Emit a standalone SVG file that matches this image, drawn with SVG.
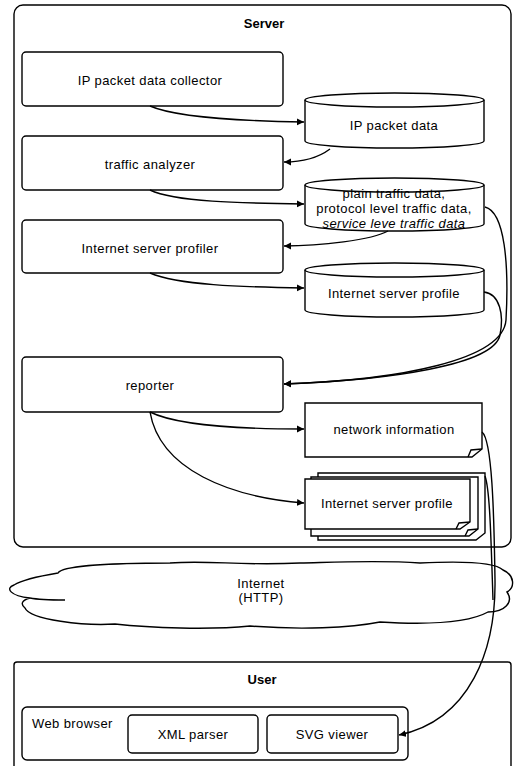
<svg xmlns="http://www.w3.org/2000/svg" width="514" height="766" viewBox="0 0 514 766">
<style>
  .box{fill:#fff;stroke:#000;stroke-width:1.4}
  .t{font-family:"Liberation Sans",Arial,sans-serif;font-size:13px;letter-spacing:0.4px;fill:#000;text-anchor:middle;dominant-baseline:central}
  .tb{font-weight:bold;letter-spacing:0}
  .c{fill:none;stroke:#000;stroke-width:1.4}
</style>
<defs>
  <marker id="ah" markerWidth="8" markerHeight="8" refX="7" refY="4" orient="auto" markerUnits="userSpaceOnUse">
    <path d="M0,0.5 L7,4 L0,7.5 Z" fill="#000"/>
  </marker>
</defs>
<rect width="514" height="766" fill="#fff"/>

<g id="server">
  <rect class="box" x="14" y="5" width="497" height="542" rx="9"/>
  <text class="t tb" x="264" y="23">Server</text>
</g>

<g id="collector">
  <rect class="box" x="22" y="52" width="261" height="54" rx="4"/>
  <text class="t" x="150" y="80">IP packet data collector</text>
</g>
<g id="ipdata">
  <path class="box" d="M305,100 A89.5,7 0 0 1 484,100 V141 A89.5,7 0 0 1 305,141 Z"/>
  <path class="c" d="M305,100 A89.5,7 0 0 0 484,100"/>
  <text class="t" x="394" y="125">IP packet data</text>
</g>
<g id="analyzer">
  <rect class="box" x="22" y="136" width="261" height="54" rx="4"/>
  <text class="t" x="150" y="164">traffic analyzer</text>
</g>
<g id="trafficdata">
  <path class="box" d="M305,185 A89.5,7 0 0 1 484,185 V224 A89.5,7 0 0 1 305,224 Z"/>
  <path class="c" d="M305,185 A89.5,7 0 0 0 484,185"/>
  <text class="t" x="394" y="193">plain traffic data,</text>
  <text class="t" x="394" y="208">protocol level traffic data,</text>
  <text class="t" x="394" y="223" font-style="italic">service leve traffic data</text>
</g>
<g id="profiler">
  <rect class="box" x="22" y="220" width="261" height="53" rx="4"/>
  <text class="t" x="150" y="248">Internet server profiler</text>
</g>
<g id="profiledb">
  <path class="box" d="M305,270 A89.5,7 0 0 1 484,270 V310 A89.5,7 0 0 1 305,310 Z"/>
  <path class="c" d="M305,270 A89.5,7 0 0 0 484,270"/>
  <text class="t" x="394" y="293">Internet server profile</text>
</g>
<g id="reporter">
  <rect class="box" x="22" y="357" width="261" height="55" rx="4"/>
  <text class="t" x="150" y="385">reporter</text>
</g>
<g id="netinfo">
  <path class="box" d="M305,403 H482 V449 L472,457 H305 Z"/>
  <path class="c" d="M468,457 L471,450 L482,449"/>
  <text class="t" x="394" y="429">network information</text>
</g>
<g id="profiledoc">
  <path class="box" d="M318,473 H485 V533 L476,540 H318 Z"/>
  <path class="box" d="M311,477 H478 V529 L469,536 H311 Z"/>
  <path class="c" d="M465,536 L468,530 L478,529"/>
  <path class="box" d="M305,479 H470 V522 L460,529 H305 Z"/>
  <path class="c" d="M456,529 L459,523 L470,522"/>
  <text class="t" x="387" y="503">Internet server profile</text>
</g>

<g id="internet">
  <path class="box" d="M58,573 C62,566 110,563 170,563 C210,560 240,566 300,563 C340,562 380,560 420,563 C460,561 495,562 503,570 C515,575 515,588 507,592 C514,602 505,612 488,612 C470,622 430,625 380,622 C350,628 300,630 250,626 C210,630 150,628 115,624 C85,626 30,620 25,608 C20,604 22,600 30,598 C10,596 5,588 14,585 C22,580 40,576 58,573 Z"/>
  <path class="c" d="M30,598 C40,600 55,600 65,600"/>
  <text class="t" x="261" y="583">Internet</text>
  <text class="t" x="261" y="597">(HTTP)</text>
</g>

<g id="user">
  <rect class="box" x="14" y="662" width="497" height="120" rx="3"/>
  <text class="t tb" x="262" y="679">User</text>
</g>
<g id="browser">
  <rect class="box" x="22" y="707" width="386" height="53" rx="5"/>
  <text class="t" x="32" y="723" style="text-anchor:start">Web browser</text>
</g>
<g id="xmlparser">
  <rect class="box" x="128" y="715" width="130" height="38" rx="4"/>
  <text class="t" x="193" y="734">XML parser</text>
</g>
<g id="svgviewer">
  <rect class="box" x="267" y="715" width="131" height="38" rx="4"/>
  <text class="t" x="332" y="734">SVG viewer</text>
</g>

<g id="connectors">
  <path class="c" marker-end="url(#ah)" d="M150,106 C175,117 240,121 304,122"/>
  <path class="c" marker-end="url(#ah)" d="M330,149 C318,158 300,162 284,162"/>
  <path class="c" marker-end="url(#ah)" d="M150,190 C175,202 240,203 304,204"/>
  <path class="c" marker-end="url(#ah)" d="M388,231 C372,240 320,246 284,246"/>
  <path class="c" marker-end="url(#ah)" d="M150,273 C178,285 240,287 304,288"/>
  <path class="c" marker-end="url(#ah)" d="M485,207 C505,212 509,265 506,320 C503,360 400,380 284,384"/>
  <path class="c" marker-end="url(#ah)" d="M484,292 C500,294 504,315 500,335 C494,365 390,380 284,384"/>
  <path class="c" marker-end="url(#ah)" d="M150,412 C176,425 240,429 304,429"/>
  <path class="c" marker-end="url(#ah)" d="M150,412 C160,470 230,497 304,503"/>
  <path class="c" marker-end="url(#ah)" d="M482,432 C492,440 494,510 495,580 C496,650 470,720 399,735"/>
  <path class="c" d="M485,476 C490,490 491,540 493,600"/>
</g>
</svg>
